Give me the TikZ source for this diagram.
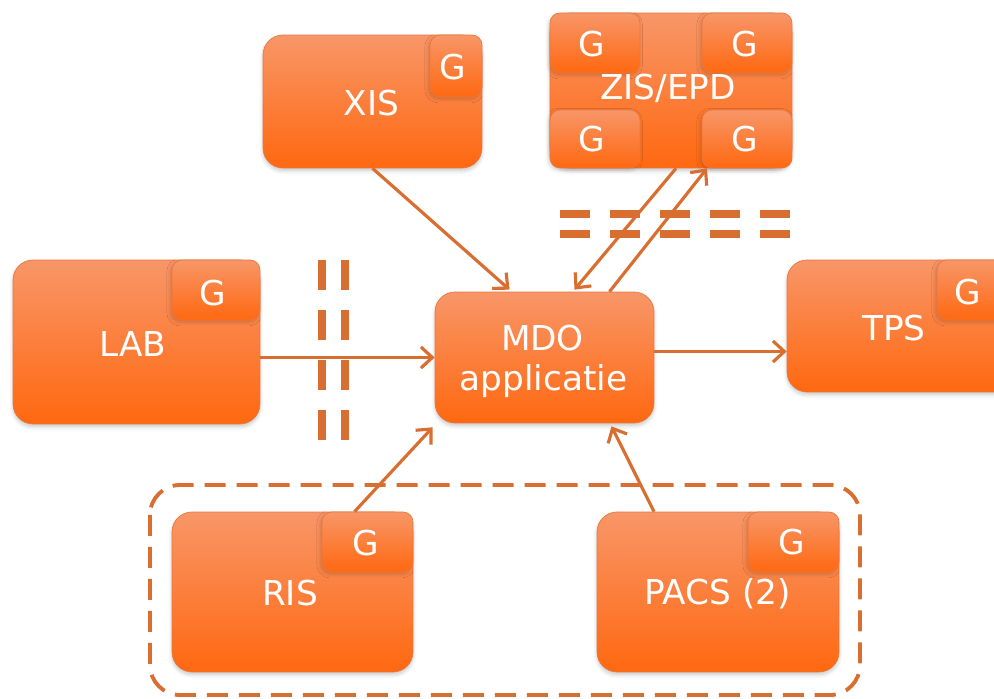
\documentclass[tikz,border=0pt]{standalone}
\usepackage{fontspec}
\setmainfont{DejaVu Sans}
\usetikzlibrary{arrows.meta,calc,shadows.blur}
\definecolor{boxtop}{RGB}{248,150,104}
\definecolor{boxbot}{RGB}{255,104,16}
\definecolor{boxedge}{RGB}{232,120,62}
\definecolor{wire}{RGB}{216,110,48}
\begin{document}
\begin{tikzpicture}[x=0.02cm,y=-0.02cm,
  sysbox/.style={rounded corners=0.4cm, top color=boxtop, bottom color=boxbot,
    draw=boxedge, line width=0.4pt, inner sep=0pt,
    blur shadow={shadow xshift=0pt,shadow yshift=-1.5pt,shadow opacity=22,shadow blur steps=6}},
  gbox/.style={rounded corners=0.2cm, top color=boxtop, bottom color=boxbot,
    draw=boxedge, line width=0.4pt, inner sep=0pt,
    blur shadow={shadow xshift=-0.8pt,shadow yshift=-1.2pt,shadow opacity=18,shadow blur steps=5}},
  lbl/.style={text=white, font=\fontsize{19.5}{22.7}\selectfont, inner sep=0pt, anchor=base},
  flow/.style={draw=wire, line width=1.8pt, -{Straight Barb[length=6.5pt,width=12pt]}},
  barrier/.style={draw=wire, line width=4.3pt, dash pattern=on 0.6cm off 0.4cm},
  group/.style={draw=wire, line width=2.2pt, dash pattern=on 0.42cm off 0.22cm, rounded corners=0.6cm},
]
\useasboundingbox (0,0) rectangle (994,699);

% grouping of the imaging systems
\draw[group] (150,485) rectangle (860,695);

% system boxes
\node[sysbox, minimum width=4.38cm, minimum height=2.66cm] (xis) at (372.5,101.5) {};
\node[gbox, minimum width=1.04cm, minimum height=1.24cm] (xisg) at (456,66) {};

\node[sysbox, minimum width=4.84cm, minimum height=3.1cm] (zis) at (671,90.5) {};
\node[gbox, minimum width=1.8cm, minimum height=1.2cm] (zisg1) at (595,43) {};
\node[gbox, minimum width=1.8cm, minimum height=1.2cm] (zisg2) at (747,43) {};
\node[gbox, minimum width=1.8cm, minimum height=1.16cm] (zisg3) at (595,139) {};
\node[gbox, minimum width=1.8cm, minimum height=1.16cm] (zisg4) at (747,139) {};

\node[sysbox, minimum width=4.94cm, minimum height=3.28cm] (lab) at (136.5,342) {};
\node[gbox, minimum width=1.76cm, minimum height=1.2cm] (labg) at (216,290) {};

\node[sysbox, minimum width=4.38cm, minimum height=2.62cm] (mdo) at (544.5,357.5) {};

\node[sysbox, minimum width=4.86cm, minimum height=2.64cm] (tps) at (908.5,326) {};
\node[gbox, minimum width=1.86cm, minimum height=1.2cm] (tpsg) at (983.5,290) {};

\node[sysbox, minimum width=4.82cm, minimum height=3.2cm] (ris) at (292.5,592) {};
\node[gbox, minimum width=1.82cm, minimum height=1.2cm] (risg) at (367.5,542) {};

\node[sysbox, minimum width=4.84cm, minimum height=3.2cm] (pacs) at (718,592) {};
\node[gbox, minimum width=1.82cm, minimum height=1.2cm] (pacsg) at (793.5,542) {};

% labels
\node[lbl] (xist) at (371.5,116) {XIS};
\node[lbl] (xisgt) at (453,80) {G};
\node[lbl] (zist) at (668,100) {ZIS/EPD};
\node[lbl] (zisg1t) at (592,57) {G};
\node[lbl] (zisg2t) at (745,57) {G};
\node[lbl] (zisg3t) at (592,152) {G};
\node[lbl] (zisg4t) at (745,152) {G};
\node[lbl] (labt) at (133,357) {LAB};
\node[lbl] (labgt) at (213,305) {G};
\node[lbl] (mdot) at (542.5,350) {MDO};
\node[lbl] (mdot2) at (543.5,390) {applicatie};
\node[lbl] (tpst) at (894,340) {TPS};
\node[lbl] (tpsgt) at (968,304) {G};
\node[lbl] (rist) at (290,605) {RIS};
\node[lbl] (risgt) at (366,555) {G};
\node[lbl] (pacst) at (717.5,604) {PACS (2)};
\node[lbl] (pacsgt) at (792,554) {G};

% network barriers
\coordinate (va1) at (322,260); \coordinate (vb1) at (322,440);
\coordinate (va2) at (345,260); \coordinate (vb2) at (345,440);
\coordinate (ha1) at (560,214); \coordinate (hb1) at (790,214);
\coordinate (ha2) at (560,234); \coordinate (hb2) at (790,234);
\draw[barrier] (va1) -- (vb1);
\draw[barrier] (va2) -- (vb2);
\draw[barrier] (ha1) -- (hb1);
\draw[barrier] (ha2) -- (hb2);

% message flows
\draw[flow] (xis.south) -- ($(mdo.north)+(-35,-2)$);
\draw[flow] ($(zis.south)+(5,0)$) -- ($(mdo.north)+(30,-2)$);
\draw[flow] ($(mdo.north)+(65,0)$) -- ($(zis.south)+(36,0)$);
\draw[flow] (lab.east |- mdo.west) -- (mdo.west);
\draw[flow] ($(mdo.east)+(0,-6)$) coordinate (mo) -- (mo -| tps.west);
\draw[flow] ($(ris.north)+(62,0)$) -- ($(mdo.south west)+(-2,4)$);
\draw[flow] ($(pacs.north)+(-64,0)$) -- ($(mdo.south)+(67,3)$);
\end{tikzpicture}
\end{document}
